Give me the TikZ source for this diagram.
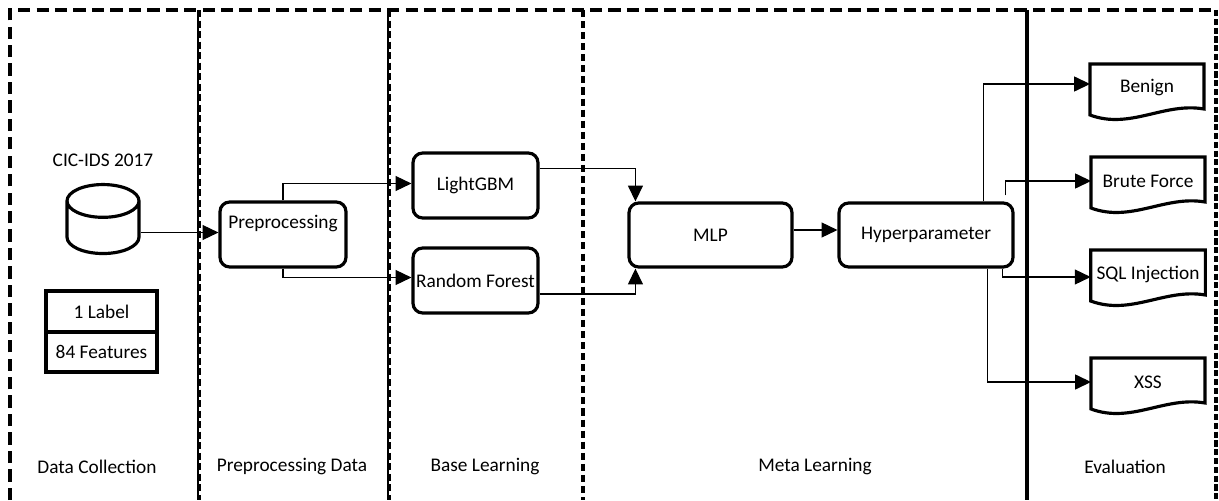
\documentclass[tikz,border=0pt]{standalone}
\usepackage{fontspec}
\setmainfont{Carlito}
\usetikzlibrary{arrows.meta,shapes.geometric,calc}
\tikzset{procbox/.style={draw,line width=1.8pt,rounded corners=5.5pt,minimum height=1.3cm,inner xsep=1pt},
	docbox/.style={minimum width=2.28cm,minimum height=0.96cm,outer sep=0pt},
	featbox/.style={draw,line width=1.8pt,minimum width=2.22cm,outer sep=0pt},
	conn/.style={->,line width=0.65pt}}
\begin{document}
\begin{tikzpicture}[x=0.02cm,y=-0.02cm,>={Triangle[length=9pt,width=8.5pt]},font=\fontsize{11}{13}\selectfont]
\useasboundingbox (0,0) rectangle (1219,500);
% stages
\draw[line width=2.2pt,dash pattern=on 7pt off 3.5pt] (10,500) -- (10,10) -- (1216,10);
\draw[line width=1.8pt,dash pattern=on 3.5pt off 1.5pt] (1216,10) -- (1216,500);
\foreach \x in {198,388} {
	\draw[line width=1.3pt] (\x,10) -- (\x,500);
	\draw[line width=1.2pt,dash pattern=on 4pt off 2pt] (\x+1.5,10) -- (\x+1.5,500);
};
\draw[line width=1.8pt,dash pattern=on 4pt off 2.3pt] (583,10) -- (583,500);
\draw[line width=1.8pt] (1027,10) -- (1027,500);

% data collection
\node (cic) at (103,160) {CIC-IDS 2017};
\node (db) [draw,line width=1.8pt,shape=cylinder,shape border rotate=90,aspect=2.8,minimum width=1.44cm,minimum height=1.38cm] at (103,232.5) {};
\node (lab) [featbox,minimum height=0.82cm] at (101.5,311.5) {1 Label};
\node (feat) [featbox,minimum height=0.8cm] at (101.5,352) {84 Features};

% processing
\node (prep) [procbox,minimum width=2.52cm,text depth=0.5cm] at (283,234.5) {Preprocessing};
\node (lgbm) [procbox,minimum width=2.5cm] at (475.5,185.5) {LightGBM};
\node (rf) [procbox,minimum width=2.5cm] at (475.5,280.5) {Random Forest};
\node (mlp) [procbox,minimum width=3.26cm,minimum height=1.28cm] at (710.5,235) {MLP};
\node (hyper) [procbox,minimum width=3.48cm,minimum height=1.28cm] at (926,235) {Hyperparameter};

% outputs
\node (benign) [docbox] at (1147,88) {Benign};
\node (brute) [docbox] at (1148,181) {Brute Force};
\node (sql) [docbox] at (1148,274) {SQL Injection};
\node (xss) [docbox] at (1148,382) {XSS};
\foreach \n in {benign,brute,sql,xss} {
	\draw[line width=1.8pt] (\n.north west) -- (\n.north east) -- ($(\n.south east)+(0,-3)$)
		.. controls ($(\n.south)+(17,-10)$) and ($(\n.south)+(-17,18)$) .. ($(\n.south west)+(0,3)$) -- cycle;
};

% connectors
\draw[conn] (db.east) -- (db.east -| prep.west);
\draw[conn] (prep.north) |- ($(lgbm.west)+(0,-2)$);
\draw[conn] (prep.south) |- ($(rf.west)+(0,-3)$);
\draw[conn] ($(lgbm.east)+(0,-17)$) -| ($(mlp.north west)+(8,0)$);
\draw[conn] ($(rf.east)+(0,13.5)$) -| ($(mlp.south west)+(8,0)$);
\draw[conn] ($(mlp.east)+(0,-5)$) -- ($(hyper.west)+(0,-5)$);
\draw[conn] ($(hyper.north west)+(146,0)$) |- ($(benign.west)+(0,-4)$);
\draw[conn] ($(hyper.north west)+(168,-6)$) |- (brute.west);
\draw[conn] ($(hyper.south west)+(165,0)$) |- ($(sql.west)+(0,3)$);
\draw[conn] ($(hyper.south west)+(150,0)$) |- (xss.west);

% stage names
\node (s1) at (97,467) {Data Collection};
\node (s2) at (292,467) {Preprocessing Data};
\node (s3) at (485,467) {Base Learning};
\node (s4) at (815,467) {Meta Learning};
\node (s5) at (1125,467) {Evaluation};
\end{tikzpicture}
\end{document}
